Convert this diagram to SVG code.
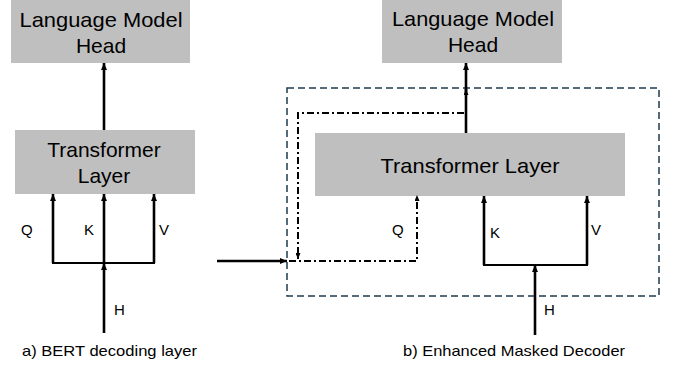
<svg xmlns="http://www.w3.org/2000/svg" width="675" height="369" viewBox="0 0 675 369">
<defs>
<style>
.box{fill:#bfbfbf;}
.t{font-family:"Liberation Sans",Arial,sans-serif;fill:#000;text-anchor:middle;}
.big{font-size:21px;}
.lbl{font-size:15px;text-anchor:start;}
.cap{font-size:15px;text-anchor:start;}
.ln{stroke:#000;stroke-width:2.6;fill:none;}
.hl{stroke:#000;stroke-width:2;fill:none;}
.dd{stroke:#000;stroke-width:2;fill:none;stroke-dasharray:7 3 2 3;}
.frame{stroke:#1f3b4d;stroke-width:1.5;fill:none;stroke-dasharray:7 4;}
</style>
<marker id="ah" viewBox="0 0 7 6" refX="7" refY="3" markerWidth="7" markerHeight="6" orient="auto" markerUnits="userSpaceOnUse">
<path d="M0,0 L7,3 L0,6 z" fill="#000"/>
</marker>
<marker id="ahd" viewBox="0 0 6 5" refX="6" refY="2.5" markerWidth="6" markerHeight="5" orient="auto" markerUnits="userSpaceOnUse">
<path d="M0,0 L6,2.5 L0,5 z" fill="#000"/>
</marker>
</defs>
<rect width="675" height="369" fill="#fff"/>

<g id="frame-b">
<rect class="frame" x="287" y="88" width="372" height="208"/>
</g>

<g id="lm-head-a">
<rect class="box" x="11" y="0" width="179" height="63"/>
<text class="t big" x="101" y="27" textLength="163" lengthAdjust="spacingAndGlyphs">Language Model</text>
<text class="t big" x="101" y="53">Head</text>
</g>
<g id="transformer-a">
<rect class="box" x="15" y="130" width="180" height="64"/>
<text class="t big" x="104" y="157">Transformer</text>
<text class="t big" x="104" y="183">Layer</text>
</g>
<g id="lm-head-b">
<rect class="box" x="382" y="0" width="180" height="63"/>
<text class="t big" x="473" y="26" textLength="162" lengthAdjust="spacingAndGlyphs">Language Model</text>
<text class="t big" x="473" y="52">Head</text>
</g>
<g id="transformer-b">
<rect class="box" x="315" y="133" width="310" height="63"/>
<text class="t big" x="470" y="173" textLength="179" lengthAdjust="spacingAndGlyphs">Transformer Layer</text>
</g>

<g id="connectors">
<line class="ln" x1="104" y1="130" x2="104" y2="63" marker-end="url(#ah)"/>
<line class="ln" x1="53" y1="263" x2="53" y2="194" marker-end="url(#ah)"/>
<line class="ln" x1="104" y1="263" x2="104" y2="194" marker-end="url(#ah)"/>
<line class="ln" x1="154" y1="263" x2="154" y2="194" marker-end="url(#ah)"/>
<line class="hl" x1="52" y1="263" x2="155" y2="263"/>
<line class="ln" x1="104" y1="333" x2="104" y2="263" marker-end="url(#ah)"/>
<line class="ln" x1="217" y1="261" x2="287" y2="261" marker-end="url(#ah)"/>
<line class="ln" x1="466" y1="133" x2="466" y2="89" marker-end="url(#ahd)"/>
<line class="ln" x1="466" y1="92" x2="466" y2="63" marker-end="url(#ah)"/>
<polyline class="dd" points="464,113 298,113 298,259" marker-end="url(#ahd)"/>
<polyline class="dd" points="289,261 417,261 417,195" marker-end="url(#ahd)"/>
<line class="ln" x1="484" y1="265" x2="484" y2="196" marker-end="url(#ah)"/>
<line class="ln" x1="587" y1="265" x2="587" y2="196" marker-end="url(#ah)"/>
<line class="hl" x1="483" y1="265" x2="588" y2="265"/>
<line class="ln" x1="535" y1="335" x2="535" y2="265" marker-end="url(#ah)"/>
</g>

<g id="labels">
<text class="t lbl" x="21" y="235">Q</text>
<text class="t lbl" x="84" y="235">K</text>
<text class="t lbl" x="159" y="235">V</text>
<text class="t lbl" x="114" y="315">H</text>
<text class="t lbl" x="392" y="235">Q</text>
<text class="t lbl" x="490" y="238">K</text>
<text class="t lbl" x="591" y="235">V</text>
<text class="t lbl" x="544" y="315">H</text>
<text class="t cap" x="22" y="356" textLength="175" lengthAdjust="spacingAndGlyphs">a) BERT decoding layer</text>
<text class="t cap" x="403" y="356" textLength="222" lengthAdjust="spacingAndGlyphs">b) Enhanced Masked Decoder</text>
</g>
</svg>
